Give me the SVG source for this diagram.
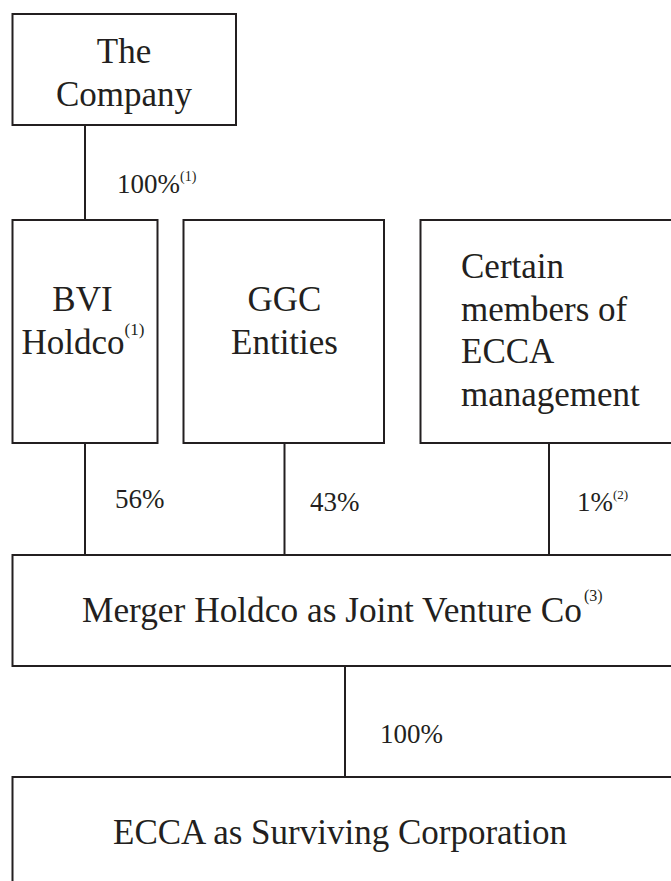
<svg xmlns="http://www.w3.org/2000/svg" width="671" height="881" viewBox="0 0 671 881">
<style>
.box{fill:#fff;stroke:#231f20;stroke-width:2}
.t{font-family:'Liberation Serif','Tinos','Times New Roman','Noto Serif','DejaVu Serif',serif;font-size:35px;fill:#231f20}
.l{font-family:'Liberation Serif','Tinos','Times New Roman','Noto Serif','DejaVu Serif',serif;font-size:27px;fill:#231f20}
.sup{font-family:'Liberation Serif','Tinos','Times New Roman','Noto Serif','DejaVu Serif',serif;font-size:16px;fill:#231f20}
.c{stroke:#231f20;stroke-width:2;fill:none}
</style>
<rect width="671" height="881" fill="#fff"/>
<g id="connectors">
<line class="c" x1="85" y1="125" x2="85" y2="220"/>
<line class="c" x1="85" y1="443" x2="85" y2="555"/>
<line class="c" x1="284.5" y1="443" x2="284.5" y2="555"/>
<line class="c" x1="549" y1="443" x2="549" y2="555"/>
<line class="c" x1="345" y1="666" x2="345" y2="777"/>
<text class="l" x="117" y="193">100%<tspan font-size="14" dy="-12">(1)</tspan></text>
<text class="l" x="115" y="508">56%</text>
<text class="l" x="310" y="511">43%</text>
<text class="l" x="577" y="511">1%<tspan font-size="13" dy="-12">(2)</tspan></text>
<text class="l" x="380" y="743">100%</text>
</g>
<g id="company">
<rect class="box" x="12.5" y="14" width="223.5" height="111"/>
<text class="t" x="124" y="63" text-anchor="middle">The</text>
<text class="t" x="124" y="106" text-anchor="middle">Company</text>
</g>
<g id="bvi">
<rect class="box" x="12.5" y="220" width="145" height="223"/>
<text class="t" x="82.5" y="311" text-anchor="middle">BVI</text>
<text class="t" x="83" y="354" text-anchor="middle">Holdco<tspan font-size="17" dy="-19">(1)</tspan></text>
</g>
<g id="ggc">
<rect class="box" x="183.5" y="220" width="200.5" height="223"/>
<text class="t" x="284.5" y="311" text-anchor="middle">GGC</text>
<text class="t" x="284.5" y="354" text-anchor="middle">Entities</text>
</g>
<g id="ecca-mgmt">
<rect class="box" x="420.5" y="220" width="270" height="223"/>
<text class="t" x="461" y="278">Certain</text>
<text class="t" x="461" y="321">members of</text>
<text class="t" x="461" y="363">ECCA</text>
<text class="t" x="461" y="406">management</text>
</g>
<g id="merger">
<rect class="box" x="12.5" y="555" width="680" height="111"/>
<text class="t" x="82" y="622" textLength="500" lengthAdjust="spacingAndGlyphs">Merger Holdco as Joint Venture Co</text>
<text class="sup" x="584" y="601">(3)</text>
</g>
<g id="surviving">
<rect class="box" x="12.5" y="777" width="680" height="130"/>
<text class="t" x="113" y="844">ECCA as Surviving Corporation</text>
</g>
</svg>
